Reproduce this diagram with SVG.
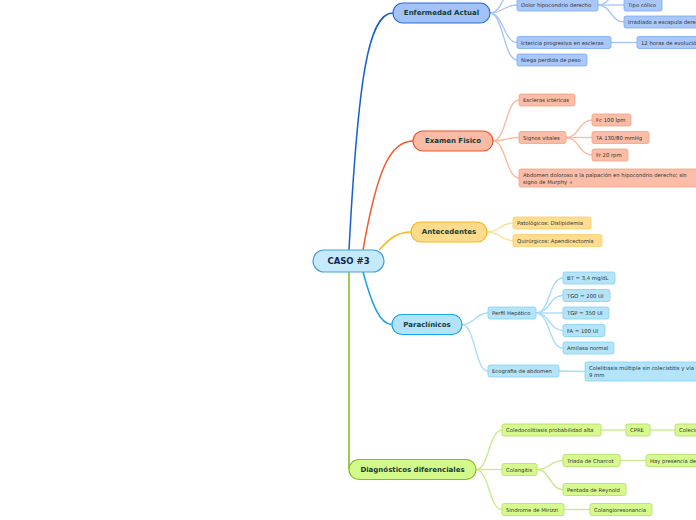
<svg xmlns="http://www.w3.org/2000/svg" width="696" height="520" viewBox="0 0 696 520">
<style>
text{font-family:"DejaVu Sans",Verdana,sans-serif;}
.m{font-size:7px;font-weight:bold;fill:#143c36;text-anchor:middle;dominant-baseline:central;}
.s{font-size:5.3px;fill:#333;dominant-baseline:central;}
.c{fill:none;}
.b1{fill:#a3c3f8;stroke:#2d6de0;stroke-width:1.2;}
.b2{fill:#a9c7f8;stroke:#7ba8f0;stroke-width:0.8;}
.o1{fill:#f9bba5;stroke:#f0552a;stroke-width:1.2;}
.o2{fill:#fbbda7;stroke:#f5a183;stroke-width:0.8;}
.y1{fill:#fedc8c;stroke:#f8b51e;stroke-width:1.2;}
.y2{fill:#fedd8f;stroke:#fccd6c;stroke-width:0.8;}
.l1{fill:#b2e3fa;stroke:#1ca5e8;stroke-width:1.2;}
.l2{fill:#b4e4fa;stroke:#86d0f4;stroke-width:0.8;}
.g1{fill:#d4f98b;stroke:#80bf1c;stroke-width:1.2;}
.g2{fill:#d6fa8e;stroke:#b1dd66;stroke-width:0.8;}
.cb{stroke:#a9c6f8;stroke-width:1.4;}
.co{stroke:#fbbaa3;stroke-width:1.4;}
.cy{stroke:#fde094;stroke-width:1.4;}
.cl{stroke:#a9dcf8;stroke-width:1.4;}
.cg{stroke:#cde98f;stroke-width:1.4;}
</style>
<rect width="696" height="520" fill="#ffffff"/>
<g id="connectors" class="c">
<path d="M349,250 C358,80 368,13 393,13" stroke="#1a5fd0" stroke-width="1.5"/>
<path d="M363,250 C377,170 390,141 413,141" stroke="#f05a28" stroke-width="1.5"/>
<path d="M379,250 C390,238 398,232 411,232" stroke="#fbb618" stroke-width="1.5"/>
<path d="M363,272 C372,305 380,324.5 392,324.5" stroke="#18a0e8" stroke-width="1.5"/>
<path d="M349,272 L349,469" stroke="#7cb818" stroke-width="1.5"/>
<path class="cb" d="M490,13 C503,13 504,-14 517,-14"/>
<path class="cb" d="M490,13 C503,13 504,5 517,5"/>
<path class="cb" d="M490,13 C503,13 504,42.5 517,42.5"/>
<path class="cb" d="M490,13 C503,13 504,60 517,60"/>
<path class="cb" d="M598,5 C611,5 611,-12 624,-12"/>
<path class="cb" d="M598,5 C611,5 611,5 624,5"/>
<path class="cb" d="M598,5 C611,5 611,22 624,22"/>
<path class="cb" d="M611,42.5 L637,42.5"/>
<path class="co" d="M493,141 C506,141 506,100 519,100"/>
<path class="co" d="M493,141 C506,141 506,137.5 519,137.5"/>
<path class="co" d="M493,141 C506,141 506,178 519,178"/>
<path class="co" d="M566,137.5 C579,137.5 579,120 592,120"/>
<path class="co" d="M566,137.5 L592,137.5"/>
<path class="co" d="M566,137.5 C579,137.5 579,155 592,155"/>
<path class="cy" d="M487,232 C500,232 500,223 513,223"/>
<path class="cy" d="M487,232 C500,232 500,240.5 513,240.5"/>
<path class="cl" d="M462,324.5 C475,324.5 475,313 488,313"/>
<path class="cl" d="M462,324.5 C475,324.5 475,371 488,371"/>
<path class="cl" d="M536,313 C550,313 549,278 563,278"/>
<path class="cl" d="M536,313 C550,313 549,295.5 563,295.5"/>
<path class="cl" d="M536,313 L563,313"/>
<path class="cl" d="M536,313 C550,313 549,330.5 563,330.5"/>
<path class="cl" d="M536,313 C550,313 549,348 563,348"/>
<path class="cl" d="M559,371 L585,371.5"/>
<path class="cg" d="M476,469.5 C489,469.5 489,430 502,430"/>
<path class="cg" d="M476,469.5 L502,469.5"/>
<path class="cg" d="M476,469.5 C489,469.5 489,509.5 502,509.5"/>
<path class="cg" d="M601,430 L626,430"/>
<path class="cg" d="M650,430 L675,430"/>
<path class="cg" d="M537,469.5 C550,469.5 550,460.5 563,460.5"/>
<path class="cg" d="M537,469.5 C550,469.5 550,489.5 563,489.5"/>
<path class="cg" d="M620,460.5 L646,460.5"/>
<path class="cg" d="M564,509.5 L590,509.5"/>
</g>
<g id="root"><rect x="313" y="250" width="71" height="22" rx="11" fill="#c5eafc" stroke="#4a9fd8" stroke-width="1.2"/><text x="348.5" y="261" class="m" style="font-size:8.5px;fill:#16264f">CASO #3</text></g>
<g id="enfermedad"><rect class="b1" x="393" y="3" width="97" height="20" rx="10"/><text class="m" x="441.5" y="13">Enfermedad Actual</text></g>
<g id="dolor"><rect class="b2" x="517" y="-1" width="81" height="12" rx="2"/><text class="s" x="521" y="5">Dolor hipocondrio derecho</text></g>
<g id="tipo"><rect class="b2" x="624" y="-1" width="38" height="12" rx="2"/><text class="s" x="628" y="5">Tipo cólico</text></g>
<g id="irradiado"><rect class="b2" x="624" y="16" width="90" height="12" rx="2"/><text class="s" x="628" y="22">Irradiado a escapula derecha</text></g>
<g id="ictericia"><rect class="b2" x="517" y="36.5" width="94" height="12" rx="2"/><text class="s" x="521" y="42.5">Ictericia progresiva en escleras</text></g>
<g id="horas"><rect class="b2" x="637" y="36.5" width="80" height="12" rx="2"/><text class="s" x="641" y="42.5">12 horas de evolución</text></g>
<g id="niega"><rect class="b2" x="517" y="54" width="70" height="12" rx="2"/><text class="s" x="521" y="60">Niega perdida de peso</text></g>
<g id="examen"><rect class="o1" x="413" y="131" width="80" height="20" rx="10"/><text class="m" x="453" y="141">Examen Fisico</text></g>
<g id="escleras"><rect class="o2" x="519" y="94" width="56" height="12" rx="2"/><text class="s" x="523" y="100">Escleras ictéricas</text></g>
<g id="signos"><rect class="o2" x="519" y="131.5" width="47" height="12" rx="2"/><text class="s" x="523" y="137.5">Signos vitales</text></g>
<g id="fc"><rect class="o2" x="592" y="114" width="39" height="12" rx="2"/><text class="s" x="596" y="120">Fc 100 lpm</text></g>
<g id="ta"><rect class="o2" x="592" y="131.5" width="57" height="12" rx="2"/><text class="s" x="596" y="137.5">TA 130/80 mmHg</text></g>
<g id="fr"><rect class="o2" x="592" y="149" width="36" height="12" rx="2"/><text class="s" x="596" y="155">Fr 20 rpm</text></g>
<g id="abdomen"><rect class="o2" x="519" y="169" width="190" height="18" rx="2"/><text class="s" x="523" y="174.5">Abdomen doloroso a la palpación en hipocondrio derecho; sin</text><text class="s" x="523" y="181.5">signo de Murphy +</text></g>
<g id="antecedentes"><rect class="y1" x="411" y="222" width="76" height="20" rx="10"/><text class="m" x="449" y="232">Antecedentes</text></g>
<g id="patologicos"><rect class="y2" x="513" y="217" width="78" height="12" rx="2"/><text class="s" x="517" y="223">Patológicos: Dislipidemia</text></g>
<g id="quirurgicos"><rect class="y2" x="513" y="234.5" width="89" height="12" rx="2"/><text class="s" x="517" y="240.5">Quirúrgicos: Apendicectomía</text></g>
<g id="paraclinicos"><rect class="l1" x="392" y="314.5" width="70" height="20" rx="10"/><text class="m" x="427" y="324.5">Paraclínicos</text></g>
<g id="perfil"><rect class="l2" x="488" y="307" width="48" height="12" rx="2"/><text class="s" x="492" y="313">Perfil Hepático</text></g>
<g id="bt"><rect class="l2" x="563" y="272" width="52" height="12" rx="2"/><text class="s" x="567" y="278">BT = 3,4 mg/dL</text></g>
<g id="tgo"><rect class="l2" x="563" y="289.5" width="47" height="12" rx="2"/><text class="s" x="567" y="295.5">TGO = 200 UI</text></g>
<g id="tgp"><rect class="l2" x="563" y="307" width="46" height="12" rx="2"/><text class="s" x="567" y="313">TGP = 350 UI</text></g>
<g id="fa"><rect class="l2" x="563" y="324.5" width="42" height="12" rx="2"/><text class="s" x="567" y="330.5">FA = 100 UI</text></g>
<g id="amilasa"><rect class="l2" x="563" y="342" width="51" height="12" rx="2"/><text class="s" x="567" y="348">Amilasa normal</text></g>
<g id="ecografia"><rect class="l2" x="488" y="365" width="71" height="12" rx="2"/><text class="s" x="492" y="371">Ecografia de abdomen</text></g>
<g id="colelitiasis"><rect class="l2" x="585" y="362" width="150" height="19" rx="2"/><text class="s" x="589" y="368">Colelitiasis múltiple sin colecistitis y vía</text><text class="s" x="589" y="375">9 mm</text></g>
<g id="diagnosticos"><rect class="g1" x="349" y="459.5" width="127" height="20" rx="10"/><text class="m" x="412.5" y="469.5">Diagnósticos diferenciales</text></g>
<g id="coledoco"><rect class="g2" x="502" y="424" width="99" height="12" rx="2"/><text class="s" x="506" y="430">Coledocolitiasis probabilidad alta</text></g>
<g id="cpre"><rect class="g2" x="626" y="424" width="24" height="12" rx="2"/><text class="s" x="630" y="430">CPRE</text></g>
<g id="colecistectomia"><rect class="g2" x="675" y="424" width="60" height="12" rx="2"/><text class="s" x="679" y="430">Colecistectomía</text></g>
<g id="colangitis"><rect class="g2" x="502" y="463.5" width="35" height="12" rx="2"/><text class="s" x="506" y="469.5">Colangitis</text></g>
<g id="triada"><rect class="g2" x="563" y="454.5" width="57" height="12" rx="2"/><text class="s" x="567" y="460.5">Triada de Charcot</text></g>
<g id="presencia"><rect class="g2" x="646" y="454.5" width="80" height="12" rx="2"/><text class="s" x="650" y="460.5">Hay presencia de</text></g>
<g id="pentada"><rect class="g2" x="563" y="483.5" width="63" height="12" rx="2"/><text class="s" x="567" y="489.5">Pentada de Reynold</text></g>
<g id="mirizzi"><rect class="g2" x="502" y="503.5" width="62" height="12" rx="2"/><text class="s" x="506" y="509.5">Sindrome de Mirizzi</text></g>
<g id="colangioresonancia"><rect class="g2" x="590" y="503.5" width="62" height="12" rx="2"/><text class="s" x="594" y="509.5">Colangioresonancia</text></g>
</svg>
